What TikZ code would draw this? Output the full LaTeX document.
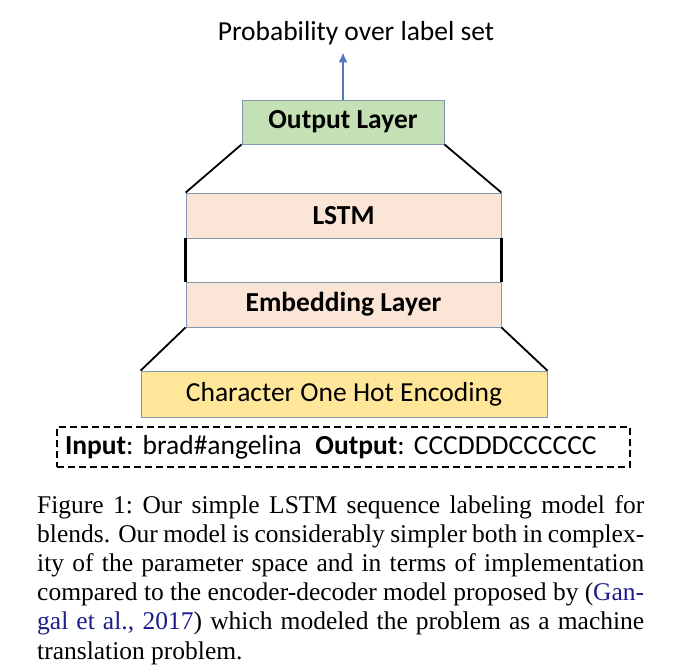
\documentclass[tikz,border=0pt]{standalone}
\usepackage{fontspec}
\setmainfont{Carlito}
\newfontfamily\capfont{Liberation Serif}
\usetikzlibrary{arrows.meta}
\definecolor{outgreen}{HTML}{C5E0B4}
\definecolor{lstmpink}{HTML}{FBE5D6}
\definecolor{hotgold}{HTML}{FFE699}
\definecolor{boxedge}{HTML}{8497B0}
\definecolor{arrowblue}{HTML}{4F79BD}
\definecolor{citeblue}{HTML}{1C1C8C}
\tikzset{
  layer/.style={draw=boxedge, line width=.8pt, inner sep=0pt, font=\fontsize{27.5}{32}\selectfont\bfseries},
  slant/.style={line width=1.8pt},
}
\begin{document}
\begin{tikzpicture}[x=1pt, y=-1pt, >={Latex[length=10pt,width=9pt]}]
\useasboundingbox (0,0) rectangle (690,670);
\node[font=\fontsize{27.5}{32}\selectfont] (title) at (356,33) {Probability over label set};
\node[layer, fill=outgreen, minimum width=202pt, minimum height=44pt] (outlayer) at (343,122) {Output Layer};
\node[layer, fill=lstmpink, minimum width=315pt, minimum height=45pt] (lstm) at (343.5,215.5) {LSTM};
\node[layer, fill=lstmpink, minimum width=315pt, minimum height=45pt] (embed) at (343.5,304.5) {Embedding Layer};
\node[layer, fill=hotgold, minimum width=406pt, minimum height=46pt, font=\fontsize{27.5}{32}\selectfont] (onehot) at (344,394) {Character One Hot Encoding};
\node[draw, dash pattern=on 7pt off 4pt, line width=1.1pt, text width=557pt, inner xsep=8pt, inner ysep=0pt,
      minimum height=40pt, align=left, font=\fontsize{27.5}{32}\selectfont] (io) at (343.5,447)
  {\frenchspacing\textbf{Input}: brad\#angelina\enspace \textbf{Output}: CCCDDDCCCCCC};
% connectors between the layers
\draw[->, arrowblue, line width=2.4pt] (outlayer.north) -- ([yshift=-4pt]outlayer.north |- title.south);
\draw[slant] (outlayer.south west) -- (lstm.north west);  \draw[slant] (outlayer.south east) -- (lstm.north east);
\draw[slant, line width=2.6pt] (lstm.south west) -- (embed.north west);  \draw[slant, line width=2.6pt] (lstm.south east) -- (embed.north east);
\draw[slant] (embed.south west) -- (onehot.north west);  \draw[slant] (embed.south east) -- (onehot.north east);
\node[anchor=north west, inner sep=0pt, text width=607pt, align=justify,
      font=\capfont\fontsize{25.5}{29.2}\selectfont] (caption) at (37,495)
  {Figure 1:\ Our simple LSTM sequence labeling model for\linebreak
   blends. Our model is considerably simpler both in complex-\linebreak
   ity of the parameter space and in terms of implementation\linebreak
   compared to the encoder-decoder model proposed by (\textcolor{citeblue}{Gan-}\linebreak
   \textcolor{citeblue}{gal et al., 2017}) which modeled the problem as a machine\linebreak
   translation problem.};
\end{tikzpicture}
\end{document}
